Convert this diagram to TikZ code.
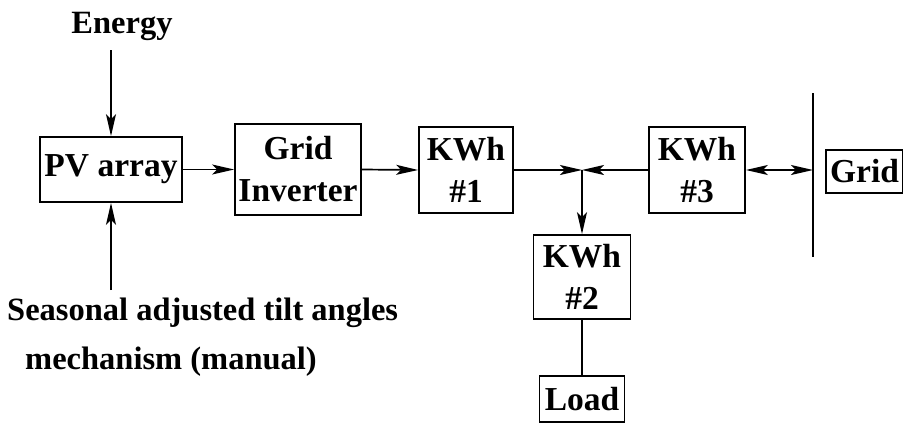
\documentclass[tikz,border=0pt]{standalone}
\usepackage{fontspec}
\setmainfont{Liberation Serif}
\usetikzlibrary{arrows.meta}
\begin{document}
\begin{tikzpicture}[x=1pt,y=-1pt,
  box/.style={draw,line width=1.8pt,inner sep=0pt,align=center,font=\bfseries\fontsize{33.5}{42}\selectfont},
  lbl/.style={inner sep=0pt,font=\bfseries\fontsize{32.5}{40}\selectfont},
  conn/.style={line width=1.7pt},
  tipa/.tip={Stealth[length=22pt,width=10pt,inset=5pt]},
  arr/.style={conn,-tipa},
  darr/.style={conn,tipa-tipa}]
\useasboundingbox (0,0) rectangle (903,424);
\node[box,minimum width=142pt,minimum height=65pt] (pv) at (111,169.5) {PV array};
\node[box,minimum width=126pt,minimum height=91pt] (gi) at (298,169.5) {Grid\\Inverter};
\node[box,minimum width=94pt,minimum height=86pt] (k1) at (466,170) {KWh\\\#1};
\node[box,minimum width=96pt,minimum height=86pt] (k3) at (697,170) {KWh\\\#3};
\node[box,minimum width=97pt,minimum height=84pt] (k2) at (582,277) {KWh\\\#2};
\node[box,minimum width=85pt,minimum height=46pt] (load) at (582,399) {Load};
\node[box,minimum width=77pt,minimum height=43pt] (grid) at (864.5,171.5) {Grid};
\node[lbl,anchor=base] (energy) at (122,33) {Energy};
\node[lbl,anchor=base west] (seas) at (7,320) {Seasonal adjusted tilt angles};
\node[lbl,anchor=base west] (mech) at (25,369) {mechanism (manual)};
\coordinate (etop) at (111,50);
\coordinate (sbot) at (111,290);
\coordinate (j) at (582,170);
\coordinate (bt) at (813,93);
\coordinate (bb) at (813,257);
\coordinate (bm) at (813,170);
\draw[arr] (etop) -- (pv.north);
\draw[arr] (sbot) -- (pv.south);
\draw[arr] (pv.east) -- (gi.west);
\draw[arr] (gi.east) -- (k1.west);
\draw[arr] (k1.east) -- (j);
\draw[arr] (k3.west) -- (j);
\draw[arr] (j) -- (k2.north);
\draw[conn] (k2.south) -- (load.north);
\draw[darr] (k3.east) -- (bm);
\draw[conn] (bt) -- (bb);
\end{tikzpicture}
\end{document}
